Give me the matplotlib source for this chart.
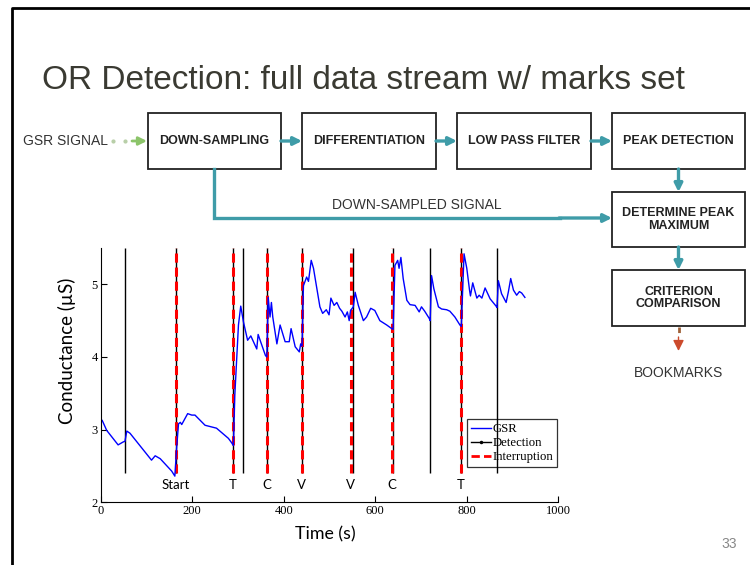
import matplotlib
matplotlib.use("Agg")
import matplotlib.pyplot as plt
from matplotlib.patches import Rectangle
from matplotlib.lines import Line2D

# GSR trace (time in s, conductance in uS)
time_s = [1, 3, 13, 38, 49, 53, 57, 64, 111, 119, 130, 155, 162, 166, 170, 174, 177, 190, 199,
          206, 228, 253, 279, 286, 290, 293, 301, 306, 312, 321, 328, 341, 344, 350, 360, 363,
          366, 370, 373, 376, 385, 392, 403, 412, 416, 425, 434, 437, 440, 443, 450, 454, 460,
          465, 470, 479, 485, 493, 499, 503, 510, 516, 522, 527, 534, 539, 543, 546, 552, 556,
          563, 574, 581, 590, 599, 610, 625, 636, 639, 643, 649, 652, 656, 661, 669, 676, 687,
          696, 701, 708, 718, 720, 723, 728, 738, 745, 756, 763, 774, 785, 788, 794, 800, 806,
          808, 813, 822, 827, 833, 840, 851, 864, 866, 869, 876, 886, 891, 896, 902, 909, 915,
          920, 927]
gsr_us = [3.11, 3.13, 2.99, 2.79, 2.83, 2.84, 2.98, 2.95, 2.58, 2.64, 2.60, 2.43, 2.36, 2.76,
          3.08, 3.10, 3.07, 3.22, 3.20, 3.20, 3.06, 3.02, 2.88, 2.82, 2.78, 3.47, 4.44, 4.70,
          4.48, 4.23, 4.29, 4.11, 4.31, 4.20, 4.02, 4.00, 4.82, 4.55, 4.75, 4.55, 4.18, 4.44,
          4.21, 4.21, 4.39, 4.14, 4.07, 4.18, 4.15, 4.98, 5.10, 5.04, 5.33, 5.22, 5.03, 4.69,
          4.60, 4.65, 4.58, 4.81, 4.71, 4.75, 4.67, 4.63, 4.55, 4.62, 4.50, 4.64, 4.69, 4.89,
          4.71, 4.50, 4.55, 4.67, 4.64, 4.50, 4.44, 4.39, 4.38, 5.26, 5.33, 5.22, 5.37, 5.08,
          4.78, 4.72, 4.71, 4.62, 4.69, 4.63, 4.53, 4.50, 5.12, 4.94, 4.69, 4.66, 4.65, 4.63,
          4.55, 4.44, 4.42, 5.42, 5.22, 4.92, 4.84, 5.02, 4.81, 4.85, 4.81, 4.95, 4.80, 4.70,
          4.68, 5.05, 4.87, 4.75, 4.90, 5.08, 4.92, 4.85, 4.90, 4.88, 4.82]

detection_s = [54, 165, 290, 310, 364, 440, 552, 638, 720, 788, 866]
interruption_s = [164, 288, 363, 439, 546, 637, 787]
interruption_labels = ["Start", "T", "C", "V", "V", "C", "T"]

steps_row = ["DOWN-SAMPLING", "DIFFERENTIATION", "LOW PASS FILTER", "PEAK DETECTION"]
steps_col = ["DETERMINE PEAK\nMAXIMUM", "CRITERION\nCOMPARISON"]

teal = "#3f9ca8"
txt_grey = "#333333"

fig = plt.figure(figsize=(7.5, 5.65), dpi=100)

# ---- slide layer (pixel coordinates) ----
bg = fig.add_axes([0, 0, 1, 1])
bg.set_xlim(0, 750)
bg.set_ylim(565, 0)
bg.axis("off")

bg.plot([12, 12, 750], [565, 8, 8], color="black", lw=2, solid_capstyle="butt")
bg.text(42, 89, "OR Detection: full data stream w/ marks set", fontsize=24,
        family="Liberation Sans", color="#3a3a32", va="baseline")
bg.text(737, 544, "33", fontsize=10, color="#888888", ha="right", va="center",
        family="Liberation Sans")

box_kw = dict(fill=False, ec="#222222", lw=1.3)
lbl_kw = dict(fontsize=9, fontweight="bold", family="Liberation Sans", ha="center",
              va="center", color="#222222", linespacing=1.05)
row_x = [(148, 281), (302, 436), (457, 591), (612, 745)]
top_y, bot_y = 113, 169
for (x0, x1), name in zip(row_x, steps_row):
    bg.add_patch(Rectangle((x0, top_y), x1 - x0, bot_y - top_y, **box_kw))
    bg.text((x0 + x1) / 2, (top_y + bot_y) / 2, name, **lbl_kw)
col_y = [(192, 247), (270, 326)]
for (y0, y1), name in zip(col_y, steps_col):
    bg.add_patch(Rectangle((612, y0), 133, y1 - y0, **box_kw))
    bg.text(678.5, (y0 + y1) / 2, name, **lbl_kw)

arr = dict(arrowstyle="-|>", color=teal, lw=2.4, mutation_scale=12, shrinkA=0, shrinkB=0)
for (a, b) in zip(row_x[:-1], row_x[1:]):
    bg.annotate("", xy=(b[0], 141), xytext=(a[1], 141), arrowprops=arr)
bg.annotate("", xy=(678.5, 192), xytext=(678.5, 169), arrowprops=arr)
bg.annotate("", xy=(678.5, 270), xytext=(678.5, 247), arrowprops=arr)

bg.plot([214, 214, 560], [169, 218, 218], color=teal, lw=2.4, solid_joinstyle="miter")
bg.annotate("", xy=(612, 218), xytext=(559, 218), arrowprops=arr)
bg.text(417, 205, "DOWN-SAMPLED SIGNAL", fontsize=10, family="Liberation Sans",
        color=txt_grey, ha="center", va="center")

bg.text(23, 141, "GSR SIGNAL", fontsize=10, family="Liberation Sans", color=txt_grey,
        va="center")
bg.plot([113, 125], [141, 141], ls="none", marker="o", ms=2, color="#b8cfa8")
bg.annotate("", xy=(147, 141), xytext=(132, 141),
            arrowprops=dict(arrowstyle="-|>", color="#8cc46a", lw=2, mutation_scale=12,
                            shrinkA=0, shrinkB=0))

bg.plot([678.5, 678.5], [327, 338], color="#a0623a", lw=2, ls=(0, (2, 2)))
bg.annotate("", xy=(678.5, 351), xytext=(678.5, 337),
            arrowprops=dict(arrowstyle="-|>", color="#cc4a2c", lw=1, mutation_scale=16,
                            shrinkA=0, shrinkB=0))
bg.text(678.5, 373, "BOOKMARKS", fontsize=10, family="Liberation Sans", color=txt_grey,
        ha="center", va="center")

# ---- chart ----
ax = fig.add_axes([0.1343, 0.1110, 0.6101, 0.4501])
ax.patch.set_alpha(0)
ax.vlines(detection_s, 2.4, 5.5, colors="black", lw=1)
ax.vlines(interruption_s, 2.4, 5.5, colors="red", lw=2.2, linestyles=(0, (3, 1.6)))
ax.plot(time_s, gsr_us, color="blue", lw=1)
for t, lab in zip(interruption_s, interruption_labels):
    ax.text(t, 2.24, lab, ha="center", va="center", fontsize=9.5, family="Lato")

ax.set_xlim(0, 1000)
ax.set_ylim(2, 5.5)
ax.set_xticks([0, 200, 400, 600, 800, 1000])
ax.set_yticks([2, 3, 4, 5])
for s in ["top", "right"]:
    ax.spines[s].set_visible(False)
ax.tick_params(direction="in", length=4, width=0.8, labelsize=9, pad=2)
for lab in ax.get_xticklabels() + ax.get_yticklabels():
    lab.set_family("Liberation Serif")
ax.set_xlabel("Time (s)", fontsize=12.8, family="Lato")
ax.set_ylabel("Conductance (\u00b5S)", fontsize=13.5, family="Lato")
ax.xaxis.set_label_coords(0.49, -0.095)
ax.yaxis.set_label_coords(-0.054, 0.595)

handles = [Line2D([], [], color="blue", lw=1),
           Line2D([], [], color="black", lw=1, marker=".", ms=3),
           Line2D([], [], color="red", lw=2, ls=(0, (3, 1.5)))]
leg = ax.legend(handles, ["GSR", "Detection", "Interruption"], loc="lower left",
                bbox_to_anchor=(0.80, 0.139), prop={"family": "Liberation Serif", "size": 9.2},
                frameon=True, fancybox=False, edgecolor="black", facecolor="none",
                borderpad=0.3, handlelength=1.6, handletextpad=0.1, labelspacing=0.15,
                borderaxespad=0)
leg.get_frame().set_linewidth(0.9)

fig.savefig("out.png", dpi=100)
